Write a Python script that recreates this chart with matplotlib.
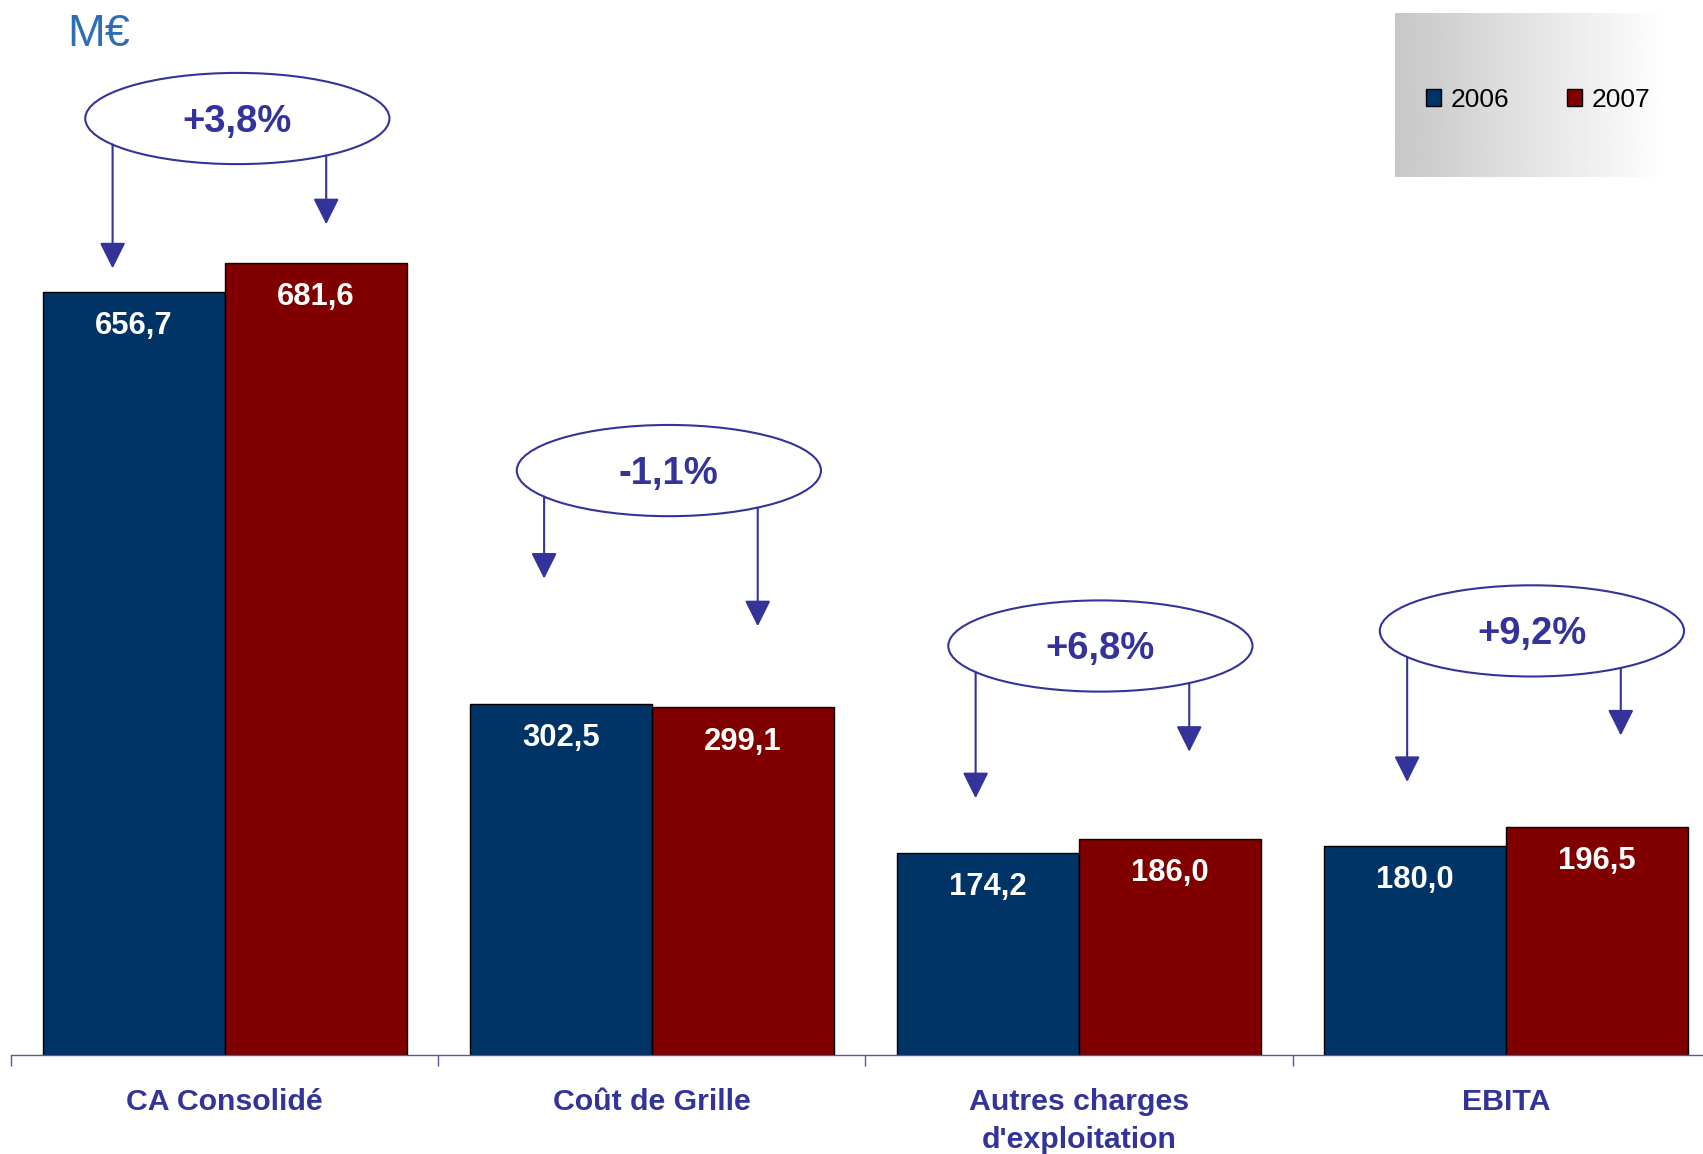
import numpy as np
import matplotlib
matplotlib.use('Agg')
import matplotlib.pyplot as plt
from matplotlib.patches import Ellipse

categories = ['CA Consolidé', 'Coût de Grille', "Autres charges\nd'exploitation", 'EBITA']
years = ['2006', '2007']
values_2006 = [656.7, 302.5, 174.2, 180.0]
values_2007 = [681.6, 299.1, 186.0, 196.5]

# bubble layout (data coords): centre and arrow tip heights
bubble_x = [0.03, 1.04, 2.05, 3.06]
bubble_y = [806, 503, 352, 365]
tip_left = [677, 410, 221, 235]
tip_right = [715, 369, 261, 275]

plt.rcParams['font.family'] = ['Liberation Sans', 'DejaVu Sans']

c2006 = '#003366'
c2007 = '#800000'
label_col = '#333399'

W, H = 1703, 1154
fig = plt.figure(figsize=(W / 100, H / 100), dpi=100)
ax = fig.add_axes([10.9 / W, 99 / H, 1709 / W, 1055 / H])
ax.patch.set_alpha(0)

x = np.arange(len(categories))
bw = 0.426
b1 = ax.bar(x - bw / 2, values_2006, bw, color=c2006, edgecolor='black', linewidth=1.0, label=years[0])
b2 = ax.bar(x + bw / 2, values_2007, bw, color=c2007, edgecolor='black', linewidth=1.0, label=years[1])

def fmt(v):
    return f'{v:.1f}'.replace('.', ',')

for bars, vals in ((b1, values_2006), (b2, values_2007)):
    for rect, v in zip(bars, vals):
        ax.annotate(fmt(v), (rect.get_x() + rect.get_width() / 2, v),
                    xytext=(0, -24.5), textcoords='offset points',
                    ha='center', va='center', color='white',
                    fontsize=22.3, fontweight='bold')

# change bubbles
ew, eh = 0.712, 78.5
for i in range(len(categories)):
    cx, cy = bubble_x[i], bubble_y[i]
    ax.add_patch(Ellipse((cx, cy), ew, eh, facecolor='none', edgecolor=label_col, lw=1.5, zorder=4))
    pct = (values_2007[i] / values_2006[i] - 1) * 100
    ax.annotate(f'{pct:+.1f}%'.replace('.', ','), (cx, cy), xytext=(0, -2.3),
                textcoords='offset points', ha='center', va='center',
                color=label_col, fontsize=27.5, fontweight='bold', zorder=5)
    for dx, tip in ((-0.292, tip_left[i]), (0.208, tip_right[i])):
        start = cy - eh / 2 * np.sqrt(1 - (dx / (ew / 2)) ** 2)
        ax.annotate('', xy=(cx + dx, tip), xytext=(cx + dx, start),
                    arrowprops=dict(arrowstyle='-|>,head_length=0.8,head_width=0.4',
                                    mutation_scale=20, color=label_col, lw=1.5,
                                    shrinkA=0, shrinkB=0))

ax.set_xlim(-0.5, 3.5)
ax.set_ylim(0, 908)
for s in ('top', 'right', 'left'):
    ax.spines[s].set_visible(False)
ax.spines['bottom'].set_color('#5555aa')
ax.spines['bottom'].set_linewidth(1.0)
ax.set_yticks([])
ax.set_xticks(x)
ax.set_xticklabels(categories, fontsize=21.8, fontweight='bold', color=label_col)
for t in ax.get_xticklabels():
    t.set_linespacing(1.42)
ax.set_xticks(np.arange(-0.5, 4.0, 1.0), minor=True)
ax.tick_params(axis='x', which='major', length=0, pad=24)
ax.tick_params(axis='x', which='minor', length=8, width=1.0, color='#5555aa', direction='out')

# unit
fig.text(67 / W, 1 - 34 / H, 'M€', fontsize=32.5, color='#2F6DB5', ha='left', va='center')

# legend background with gradient
gax = fig.add_axes([1394.5 / W, 1 - 177 / H, 272 / W, 164 / H])
grad = np.linspace(0.78, 1.0, 256).reshape(1, -1)
gax.imshow(grad, cmap='gray', vmin=0, vmax=1, aspect='auto')
gax.axis('off')

fig.legend(handles=[b1, b2], loc='center left', bbox_to_anchor=(1426 / W, 1 - 100 / H),
           ncol=2, frameon=False, fontsize=19, handlelength=0.58, handleheight=0.58,
           handletextpad=0.34, columnspacing=2.2, borderpad=0, borderaxespad=0)

fig.savefig('out.png', dpi=100)
